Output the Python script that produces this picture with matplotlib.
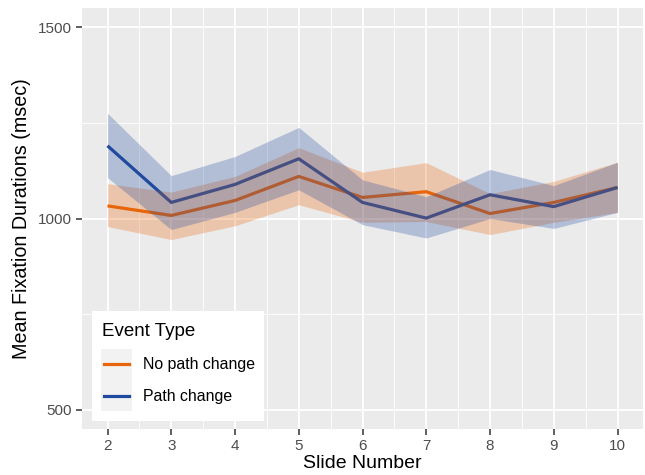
import numpy as np
from matplotlib import pyplot as plt
from matplotlib.lines import Line2D
from matplotlib.patches import Rectangle

plt.rcParams['font.family'] = ['Liberation Sans', 'DejaVu Sans']

slides = [2, 3, 4, 5, 6, 7, 8, 9, 10]

no_change = [1033, 1008, 1047, 1110, 1055, 1070, 1013, 1042, 1081]
no_change_lo = [979, 945, 981, 1036, 990, 992, 958, 990, 1016]
no_change_hi = [1091, 1069, 1110, 1185, 1121, 1146, 1065, 1097, 1147]

change = [1190, 1042, 1089, 1156, 1042, 1001, 1062, 1031, 1081]
change_lo = [1107, 971, 1016, 1075, 984, 949, 1000, 974, 1016]
change_hi = [1275, 1112, 1162, 1238, 1101, 1057, 1128, 1086, 1147]

labels = ['No path change', 'Path change']
colors = ['#E8650A', '#1F4AA0']

W, H = 645, 475
fig = plt.figure(figsize=(W / 100, H / 100), dpi=100)
ax = fig.add_axes([82 / W, 1 - 429 / H, (643 - 82) / W, (429 - 8) / H])
ax.set_facecolor('#EBEBEB')
for s in ax.spines.values():
    s.set_visible(False)

# grid like ggplot
ax.set_xticks(slides)
ax.set_xticks(np.arange(2.5, 10, 1), minor=True)
ax.set_yticks([500, 1000, 1500])
ax.set_yticks([750, 1250], minor=True)
ax.grid(which='major', color='white', lw=1.3, zorder=0)
ax.grid(which='minor', color='white', lw=0.6, zorder=0)
ax.set_axisbelow(True)

# lines first, ribbons on top (as in the original)
ax.plot(slides, no_change, color=colors[0], lw=2.3, zorder=2, solid_capstyle='butt')
ax.plot(slides, change, color=colors[1], lw=2.3, zorder=2, solid_capstyle='butt')
ax.fill_between(slides, no_change_lo, no_change_hi, color=colors[0], alpha=0.28, lw=0, zorder=3)
ax.fill_between(slides, change_lo, change_hi, color=colors[1], alpha=0.28, lw=0, zorder=3)

ax.set_xlim(1.6, 10.4)
ax.set_ylim(450, 1550)
ax.tick_params(which='major', length=4, width=1.1, color='#333333',
               labelcolor='#4D4D4D', labelsize=11, pad=3)
ax.tick_params(which='minor', length=0)
ax.set_xlabel('Slide Number', fontsize=14, labelpad=2)
ax.set_ylabel('Mean Fixation Durations (msec)', fontsize=14.2, labelpad=5)


# legend drawn by hand in figure pixels
def fx(px):
    return px / W


def fy(py):
    return 1 - py / H


fig.patches.append(Rectangle((fx(92), fy(421)), fx(264) - fx(92), fy(311) - fy(421),
                             transform=fig.transFigure, facecolor='white', edgecolor='none', zorder=5))
fig.patches.append(Rectangle((fx(101), fy(411)), fx(132) - fx(101), fy(349) - fy(411),
                             transform=fig.transFigure, facecolor='#F2F2F2', edgecolor='none', zorder=6))
fig.text(fx(102), fy(331), 'Event Type', fontsize=13.5, va='center', ha='left', zorder=7)
for i, (lab, col) in enumerate(zip(labels, colors)):
    yy = [364, 396][i]
    fig.lines.append(Line2D([fx(104), fx(129)], [fy(yy), fy(yy)], color=col, lw=2.3,
                            transform=fig.transFigure, zorder=7))
    fig.text(fx(143), fy(yy), lab, fontsize=11.4, va='center', ha='left', zorder=7)

fig.savefig('out.png', dpi=100)
